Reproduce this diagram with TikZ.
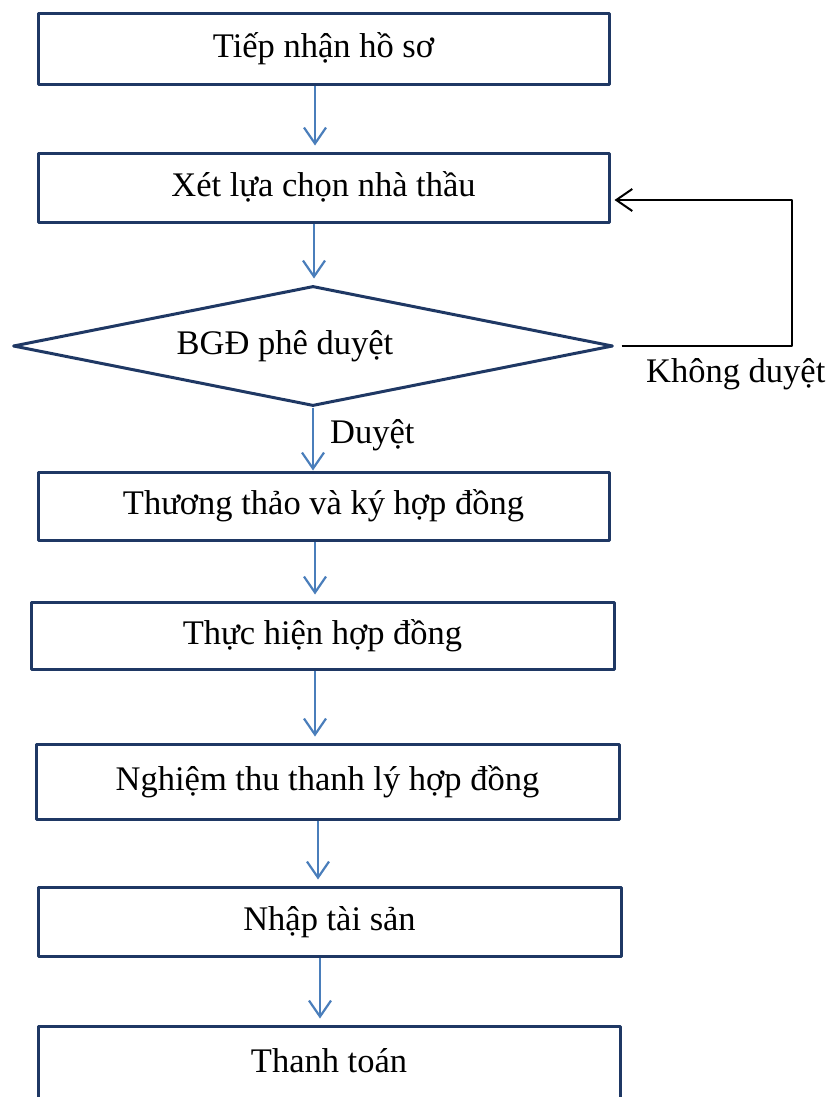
\documentclass[tikz,border=0pt]{standalone}
\usepackage{fontspec}
\setmainfont{Liberation Serif}
\usetikzlibrary{shapes.geometric,arrows.meta}
\definecolor{boxnavy}{HTML}{1F3864}
\definecolor{flowblue}{HTML}{4A7EBB}
\tikzset{
  stepbox/.style={draw=boxnavy, line width=3pt, inner sep=0pt, text height=26pt, text depth=9pt},
  flow/.style={draw=flowblue, line width=2.2pt, -{Straight Barb[length=16pt,width=22pt]}},
  back/.style={draw=black, line width=2pt, -{Straight Barb[length=16pt,width=22pt]}}
}
\begin{document}
\begin{tikzpicture}[x=1pt, y=-1pt, font=\fontsize{34.5pt}{40pt}\selectfont, line join=round]
  \useasboundingbox (0,0) rectangle (829,1097);
  % steps
  \node[stepbox, minimum width=571pt, minimum height=71pt] (b1) at (323.5,49.5) {Tiếp nhận hồ sơ};
  \node[stepbox, minimum width=571pt, minimum height=69pt] (b2) at (323.5,187.5) {Xét lựa chọn nhà thầu};
  \node[diamond, draw=boxnavy, line width=3pt, inner sep=0pt, minimum width=600pt, minimum height=120pt,
        label={[xshift=-28pt, text height=26pt, text depth=9pt]center:BGĐ phê duyệt}] (dia) at (313,346) {};
  \node[stepbox, minimum width=571pt, minimum height=68pt] (b3) at (323.5,506) {Thương thảo và ký hợp đồng};
  \node[stepbox, minimum width=583pt, minimum height=67pt] (b4) at (322.5,635.5) {Thực hiện hợp đồng};
  \node[stepbox, minimum width=583pt, minimum height=75pt] (b5) at (327.5,781.5) {Nghiệm thu thanh lý hợp đồng};
  \node[stepbox, minimum width=583pt, minimum height=69pt] (b6) at (329.5,921.5) {Nhập tài sản};
  \node[stepbox, minimum width=582pt, minimum height=76pt] (b7) at (329,1064) {Thanh toán};
  % labels
  \node[anchor=base west, inner sep=0pt] (ok) at (330,443) {Duyệt};
  \node[anchor=base west, inner sep=0pt] (no) at (646,382) {Không duyệt};
  % flow
  \foreach \a/\b/\x in {b1/b2/315, b2/dia/314, b3/b4/315, b4/b5/315, b5/b6/318, b6/b7/320}{
    \coordinate (col) at (\x,0);
    \draw[flow, shorten >=6pt] (\a.south -| col) -- (\b.north -| col);
  }
  \draw[flow] (dia.south) -- (b3.north -| dia.south);
  % back to b2
  \coordinate (k1) at (792,346);
  \coordinate (k2) at (792,200);
  \coordinate (k3) at (b2.east |- k2);
  \draw[back] ([xshift=7pt]dia.east) -- (k1) -- (k2) -- ([xshift=4pt]k3);
\end{tikzpicture}
\end{document}
